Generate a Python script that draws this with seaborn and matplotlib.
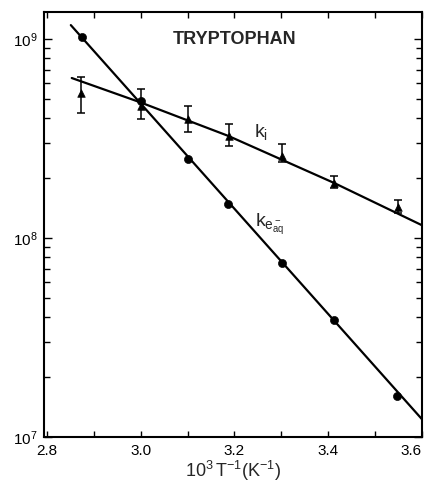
import numpy as np
import pandas as pd
import matplotlib
matplotlib.use("Agg")
import matplotlib.pyplot as plt
from matplotlib.ticker import LogLocator, MultipleLocator, FixedLocator, NullFormatter
import seaborn as sns

# Dados
inv_T_e = [2.874, 3.0, 3.1, 3.187, 3.302, 3.413, 3.547]
k_e = [1.02e9, 4.88e8, 2.49e8, 1.48e8, 7.48e7, 3.87e7, 1.61e7]

inv_T_i = [2.872, 3.0, 3.1, 3.189, 3.302, 3.413, 3.55]
k_i = [5.35e8, 4.6e8, 3.96e8, 3.26e8, 2.58e8, 1.89e8, 1.43e8]
k_i_hi = [6.44e8, 5.6e8, 4.6e8, 3.74e8, 2.97e8, 2.05e8, 1.55e8]
k_i_lo = [4.25e8, 3.96e8, 3.41e8, 2.9e8, 2.41e8, 1.78e8, 1.34e8]

# Retas traçadas à mão (pontos lidos ao longo delas)
fit_x_e = [2.851, 3.6]
fit_k_e = [1.175e9, 1.23e7]
fit_x_i = [2.853, 2.998, 3.187, 3.413, 3.6]
fit_k_i = [6.37e8, 4.82e8, 3.26e8, 1.89e8, 1.16e8]

xticks = [2.8, 3.0, 3.2, 3.4, 3.6]
xtick_labels = ["2.8", "3.0", "3.2", "3.4", "3.6"]

df_e = pd.DataFrame({"x": inv_T_e, "k": k_e})
df_i = pd.DataFrame({"x": inv_T_i, "k": k_i})

sns.set_style("ticks")
plt.rcParams["font.family"] = ["Liberation Sans", "DejaVu Sans"]
plt.rcParams["mathtext.fontset"] = "custom"
plt.rcParams["mathtext.rm"] = "Liberation Sans"
plt.rcParams["mathtext.it"] = "Liberation Sans"

fig = plt.figure(figsize=(4.24, 4.83), dpi=100)
ax = fig.add_axes([0.104, 0.0952, 0.891, 0.880])

sns.lineplot(x=fit_x_e, y=fit_k_e, color="black", lw=1.6, ax=ax, sort=False)
sns.lineplot(x=fit_x_i, y=fit_k_i, color="black", lw=1.6, ax=ax, sort=False)
sns.scatterplot(data=df_e, x="x", y="k", marker="o", s=34, color="black",
                edgecolor="black", ax=ax, zorder=5)
yerr = [np.array(k_i) - np.array(k_i_lo), np.array(k_i_hi) - np.array(k_i)]
ax.errorbar(inv_T_i, k_i, yerr=yerr, fmt="none", ecolor="black",
            elinewidth=1.1, capsize=3, capthick=1.1, zorder=4)
sns.scatterplot(data=df_i, x="x", y="k", marker="^", s=30, color="black",
                edgecolor="black", ax=ax, zorder=5)

ax.set_yscale("log")
ax.set_xlim(2.794, 3.6)
ax.set_ylim(1e7, 10 ** 9.136)

ax.xaxis.set_major_locator(FixedLocator(xticks))
ax.set_xticklabels(xtick_labels)
ax.xaxis.set_minor_locator(MultipleLocator(0.1))
ax.yaxis.set_major_locator(LogLocator(base=10, numticks=10))
ax.yaxis.set_minor_locator(LogLocator(base=10, subs=np.arange(2, 10), numticks=20))
ax.yaxis.set_minor_formatter(NullFormatter())

ax.tick_params(which="both", direction="in", top=True, right=True,
               width=1.0, labelsize=11, colors="black")
ax.tick_params(which="major", axis="y", length=6, pad=5)
ax.tick_params(which="minor", axis="y", length=4)
ax.tick_params(which="both", axis="x", length=4, pad=5)
# o último rótulo encosta na borda: alinha à direita para não cortar
ax.get_xticklabels()[-1].set_horizontalalignment("right")

for s in ax.spines.values():
    s.set_linewidth(1.5)
    s.set_color("black")

ax.set_xlabel(r"$\mathrm{10^3\,T^{-1}(K^{-1})}$", fontsize=13, labelpad=1)
ax.set_ylabel("")

ax.text(3.2, 10 ** 9.0, "TRYPTOPHAN", fontsize=13, fontweight="bold",
        ha="center", va="center")
ax.text(3.257, 10 ** 8.533, r"$\mathrm{k_i}$", fontsize=14, ha="center", va="center")
ax.text(3.245, 10 ** 8.07, r"$\mathrm{k_{e^-_{aq}}}$", fontsize=14,
        ha="left", va="center")

plt.savefig("out.png", dpi=100)
plt.close()
